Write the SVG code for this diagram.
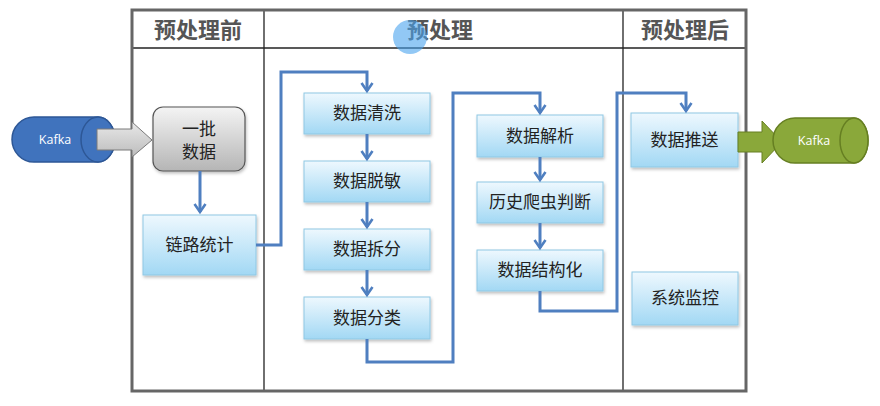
<svg xmlns="http://www.w3.org/2000/svg" width="880" height="406" viewBox="0 0 880 406">
<defs>
<linearGradient id="gBlue" x1="0" y1="0" x2="0" y2="1">
<stop offset="0" stop-color="#eef8fe"/>
<stop offset="1" stop-color="#a2d8f4"/>
</linearGradient>
<linearGradient id="gGray" x1="0" y1="0" x2="0" y2="1">
<stop offset="0" stop-color="#f4f4f4"/>
<stop offset="1" stop-color="#b5b5b5"/>
</linearGradient>
<linearGradient id="gArrow" x1="0" y1="0" x2="0" y2="1">
<stop offset="0" stop-color="#e8e8e8"/>
<stop offset="1" stop-color="#bcbcbc"/>
</linearGradient>
<filter id="sh" x="-10%" y="-10%" width="130%" height="140%">
<feDropShadow dx="1" dy="2" stdDeviation="1.5" flood-color="#000" flood-opacity="0.25"/>
</filter>
<marker id="ah" markerUnits="userSpaceOnUse" markerWidth="12" markerHeight="14" viewBox="0 0 12 14" refX="9" refY="7" orient="auto">
<path d="M1,1.5 L9,7 L1,12.5" fill="none" stroke="#4f7fc0" stroke-width="2.6" stroke-linejoin="miter"/>
</marker>
<style>
.box{fill:url(#gBlue);stroke:#8fc8e4;stroke-width:1;filter:url(#sh)}
.t{font-family:"Noto Sans CJK SC","Noto Sans",sans-serif;font-size:17px;fill:#222;text-anchor:middle}
.h{font-family:"Noto Sans CJK SC","Noto Sans",sans-serif;font-size:22px;font-weight:bold;fill:#555;text-anchor:middle}
.k{font-family:"Open Sans","DejaVu Sans",sans-serif;font-size:12.5px;fill:#fff;text-anchor:middle}
.c{fill:none;stroke:#4f7fc0;stroke-width:3;stroke-linejoin:miter}
</style>
</defs>
<rect width="880" height="406" fill="#fff"/>
<g id="table">
<line x1="132" y1="48" x2="746" y2="48" stroke="#222" stroke-width="1.3"/>
<line x1="264" y1="10" x2="264" y2="391" stroke="#222" stroke-width="1.3"/>
<line x1="623" y1="10" x2="623" y2="391" stroke="#222" stroke-width="1.3"/>
<rect x="132" y="10" width="614" height="381" fill="none" stroke="#666" stroke-width="3"/>
<text class="h" x="198" y="38">预处理前</text>
<text class="h" x="440" y="38">预处理</text>
<text class="h" x="685" y="38">预处理后</text>
</g>
<g id="cursor">
<circle cx="410" cy="37" r="17" fill="#4aa3ee" fill-opacity="0.6"/>
</g>
<g id="kafka-in">
<path d="M34,117 H98 A17,22.5 0 0 1 98,162 H34 A22,22.5 0 0 1 34,117 Z" fill="#4073bd" stroke="#2d5796" stroke-width="1.5"/>
<ellipse cx="98" cy="139.5" rx="17" ry="22.5" fill="#4073bd" stroke="#2d5796" stroke-width="1.5"/>
<text class="k" x="55" y="144">Kafka</text>
</g>
<g id="arrow-in">
<polygon points="97,129 132,129 132,122 152,140 132,157 132,150 97,150" fill="url(#gArrow)" stroke="#7a7a7a" stroke-width="1"/>
</g>
<g id="batch">
<rect x="153" y="107" width="92" height="64" rx="10" fill="url(#gGray)" stroke="#555" stroke-width="1.2" filter="url(#sh)"/>
<text class="t" x="199" y="135">一批</text>
<text class="t" x="199" y="158">数据</text>
</g>
<g id="link-stat"><rect class="box" x="143" y="215" width="113" height="60"/><text class="t" x="199.5" y="251">链路统计</text></g>
<g id="clean"><rect class="box" x="304" y="93" width="126" height="41"/><text class="t" x="367" y="119">数据清洗</text></g>
<g id="mask"><rect class="box" x="304" y="161" width="126" height="41"/><text class="t" x="367" y="187">数据脱敏</text></g>
<g id="split"><rect class="box" x="304" y="229" width="126" height="41"/><text class="t" x="367" y="255">数据拆分</text></g>
<g id="classify"><rect class="box" x="304" y="297" width="126" height="42"/><text class="t" x="367" y="324">数据分类</text></g>
<g id="parse"><rect class="box" x="477" y="115" width="126" height="42"/><text class="t" x="540" y="142">数据解析</text></g>
<g id="crawler"><rect class="box" x="477" y="182" width="126" height="41"/><text class="t" x="540" y="208">历史爬虫判断</text></g>
<g id="struct"><rect class="box" x="477" y="250" width="126" height="41"/><text class="t" x="540" y="276">数据结构化</text></g>
<g id="push"><rect class="box" x="631" y="113" width="107" height="54"/><text class="t" x="684.5" y="146">数据推送</text></g>
<g id="monitor"><rect class="box" x="632" y="272" width="106" height="53"/><text class="t" x="685" y="304">系统监控</text></g>
<g id="arrow-out">
<polygon points="738,132 762,132 762,121 782,142 762,163 762,152 738,152" fill="#8aa83a" stroke="#667f22" stroke-width="1"/>
</g>
<g id="kafka-out">
<path d="M795,118 H854 A14,22.5 0 0 1 854,163 H795 A22,22.5 0 0 1 795,118 Z" fill="#8aa83a" stroke="#667f22" stroke-width="1.5"/>
<ellipse cx="854" cy="140.5" rx="14" ry="22.5" fill="#8aa83a" stroke="#667f22" stroke-width="1.5"/>
<text class="k" x="814" y="145">Kafka</text>
</g>
<g id="connectors">
<polyline class="c" points="200,171 200,212" marker-end="url(#ah)"/>
<polyline class="c" points="256,245 281,245 281,72 367,72 367,91" marker-end="url(#ah)"/>
<polyline class="c" points="367,134 367,159" marker-end="url(#ah)"/>
<polyline class="c" points="367,202 367,227" marker-end="url(#ah)"/>
<polyline class="c" points="367,270 367,295" marker-end="url(#ah)"/>
<polyline class="c" points="367,339 367,362 453,362 453,93 540,93 540,113" marker-end="url(#ah)"/>
<polyline class="c" points="540,157 540,180" marker-end="url(#ah)"/>
<polyline class="c" points="540,223 540,248" marker-end="url(#ah)"/>
<polyline class="c" points="540,291 540,311 617,311 617,93 686,93 686,111" marker-end="url(#ah)"/>
</g>
</svg>
